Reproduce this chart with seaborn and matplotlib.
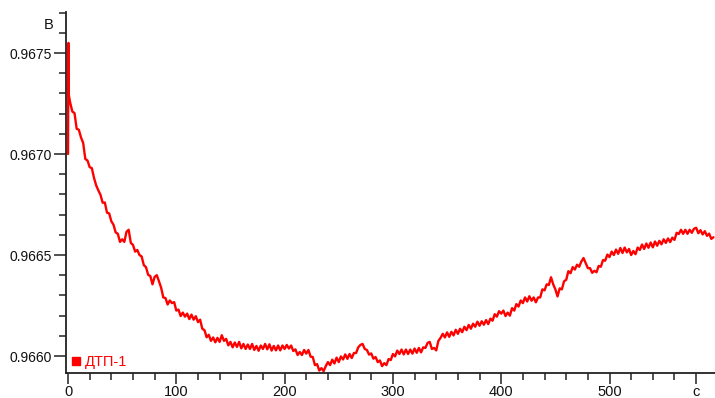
import numpy as np
import pandas as pd
import matplotlib
matplotlib.use("Agg")
import matplotlib.pyplot as plt
from matplotlib.lines import Line2D
from matplotlib.ticker import FixedLocator
import seaborn as sns

# ДТП-1 sensor voltage, В, sampled every 2 s (the first three are the switch-on transient)
start_times = [0.0, 0.4, 0.8]
start_volts = [0.967000, 0.967550, 0.967290]

# 2 s ... 150 s: initial decay
decay_volts = [
    0.967255, 0.967210, 0.967203, 0.967125, 0.967120, 0.967082, 0.967055, 0.966975, 0.966968, 0.966935,
    0.966930, 0.966882, 0.966845, 0.966820, 0.966798, 0.966759, 0.966760, 0.966710, 0.966706, 0.966667,
    0.966650, 0.966612, 0.966605, 0.966565, 0.966578, 0.966565, 0.966615, 0.966625, 0.966560, 0.966550,
    0.966517, 0.966525, 0.966500, 0.966493, 0.966450, 0.966440, 0.966402, 0.966396, 0.966355, 0.966392,
    0.966400, 0.966370, 0.966338, 0.966290, 0.966287, 0.966255, 0.966275, 0.966262, 0.966267, 0.966225,
    0.966230, 0.966198, 0.966215, 0.966195, 0.966210, 0.966183, 0.966205, 0.966180, 0.966197, 0.966168,
    0.966180, 0.966135, 0.966128, 0.966093, 0.966105, 0.966075, 0.966092, 0.966068, 0.966090, 0.966070,
    0.966103, 0.966075, 0.966085, 0.966053, 0.966070,
]

# 152 s ... 340 s: minimum
trough_volts = [
    0.966043, 0.966067, 0.966045, 0.966070, 0.966038, 0.966060, 0.966035, 0.966057, 0.966035, 0.966060,
    0.966030, 0.966050, 0.966026, 0.966052, 0.966035, 0.966060, 0.966033, 0.966058, 0.966027, 0.966050,
    0.966028, 0.966052, 0.966028, 0.966052, 0.966035, 0.966055, 0.966037, 0.966052, 0.966025, 0.966033,
    0.966005, 0.966020, 0.966005, 0.966030, 0.966012, 0.966030, 0.965997, 0.965995, 0.965955, 0.965960,
    0.965928, 0.965940, 0.965925, 0.965950, 0.965970, 0.965955, 0.965982, 0.965963, 0.965992, 0.965970,
    0.965998, 0.965983, 0.966008, 0.965986, 0.966010, 0.965990, 0.966015, 0.966015, 0.966043, 0.966055,
    0.966060, 0.966035, 0.966030, 0.966007, 0.966013, 0.965987, 0.965995, 0.965970, 0.965978, 0.965950,
    0.965965, 0.965955, 0.965985, 0.965980, 0.966010, 0.965998, 0.966027, 0.966010, 0.966032, 0.966008,
    0.966032, 0.966010, 0.966032, 0.966012, 0.966037, 0.966016, 0.966040, 0.966018, 0.966043, 0.966040,
    0.966065, 0.966070, 0.966035, 0.966040, 0.966028,
]

# 342 s ... 596 s: recovery
rise_volts = [
    0.966075, 0.966090, 0.966110, 0.966092, 0.966117, 0.966095, 0.966120, 0.966102, 0.966130, 0.966110,
    0.966135, 0.966118, 0.966145, 0.966128, 0.966154, 0.966135, 0.966160, 0.966145, 0.966170, 0.966150,
    0.966172, 0.966155, 0.966178, 0.966158, 0.966185, 0.966175, 0.966207, 0.966195, 0.966222, 0.966210,
    0.966225, 0.966198, 0.966215, 0.966200, 0.966237, 0.966225, 0.966257, 0.966245, 0.966275, 0.966262,
    0.966290, 0.966270, 0.966296, 0.966274, 0.966290, 0.966266, 0.966290, 0.966290, 0.966330, 0.966325,
    0.966355, 0.966352, 0.966390, 0.966355, 0.966330, 0.966295, 0.966335, 0.966330, 0.966370, 0.966377,
    0.966420, 0.966410, 0.966440, 0.966428, 0.966452, 0.966442, 0.966468, 0.966485, 0.966460, 0.966435,
    0.966435, 0.966412, 0.966422, 0.966415, 0.966446, 0.966442, 0.966475, 0.966472, 0.966502, 0.966490,
    0.966517, 0.966500, 0.966527, 0.966506, 0.966535, 0.966510, 0.966537, 0.966513, 0.966530, 0.966500,
    0.966520, 0.966504, 0.966537, 0.966525, 0.966552, 0.966530, 0.966557, 0.966536, 0.966562, 0.966538,
    0.966567, 0.966546, 0.966570, 0.966553, 0.966578, 0.966560, 0.966582, 0.966564, 0.966586, 0.966575,
    0.966610, 0.966604, 0.966625, 0.966605, 0.966625, 0.966605, 0.966625, 0.966610, 0.966630, 0.966635,
    0.966608, 0.966623, 0.966602, 0.966618, 0.966595, 0.966606, 0.966580, 0.966588,
]

series_label = "ДТП-1"
y_major = [0.9660, 0.9665, 0.9670, 0.9675]
y_major_labels = ["0.9660", "0.9665", "0.9670", "0.9675"]
x_major = [0, 100, 200, 300, 400, 500, 580]
x_major_labels = ["0", "100", "200", "300", "400", "500", "с"]
y_unit = "В"

sampled = decay_volts + trough_volts + rise_volts
times = list(start_times) + [2.0 * (i + 1) for i in range(len(sampled))]
volts = list(start_volts) + sampled
df = pd.DataFrame({"t": times, "v": volts})

sns.set_style("ticks")
plt.rcParams["font.family"] = ["Liberation Sans", "DejaVu Sans"]

fig = plt.figure(figsize=(7.15, 3.98), dpi=100)
ax = fig.add_axes([66 / 715, 25 / 398, 649 / 715, 361 / 398])

sns.lineplot(data=df, x="t", y="v", ax=ax, color="#ff0000", linewidth=1.7,
             estimator=None, sort=False)

ax.set_xlim(-1.85, 597.4)
ax.set_ylim(0.965916, 0.967703)
ax.set_xlabel("")
ax.set_ylabel("")

ax.xaxis.set_major_locator(FixedLocator(x_major))
ax.set_xticklabels(x_major_labels)
ax.xaxis.set_minor_locator(FixedLocator([v for v in range(20, 597, 20) if v not in x_major]))
ax.yaxis.set_major_locator(FixedLocator(y_major))
ax.set_yticklabels(y_major_labels)
ax.yaxis.set_minor_locator(FixedLocator([round(0.9660 + 0.0001 * k, 4) for k in range(0, 18)
                                         if round(0.9660 + 0.0001 * k, 4) not in y_major]))

ax.tick_params(which="major", length=9, width=1.1, color="#222222", pad=1,
               labelsize=10, labelcolor="#111111")
ax.tick_params(axis="x", which="major", length=8, pad=0.5, labelsize=10.5)
ax.tick_params(which="minor", length=5, width=1.1, color="#222222")
for side in ("top", "right"):
    ax.spines[side].set_visible(False)
for side in ("left", "bottom"):
    ax.spines[side].set_linewidth(1.3)
    ax.spines[side].set_color("#222222")

ax.text(-0.02, 0.965, y_unit, transform=ax.transAxes, ha="right", va="center",
        fontsize=10.5, color="#111111")

handle = Line2D([], [], marker="s", color="#ff0000", linestyle="none", markersize=6)
ax.legend(handles=[handle], labels=[series_label], loc="lower left",
          bbox_to_anchor=(0.008, 0.01), frameon=False, labelcolor="#ff0000",
          handlelength=0.7, handletextpad=0.25, borderpad=0.0, borderaxespad=0.0,
          fontsize=10.5)

fig.savefig("out.png", dpi=100, facecolor="white")
